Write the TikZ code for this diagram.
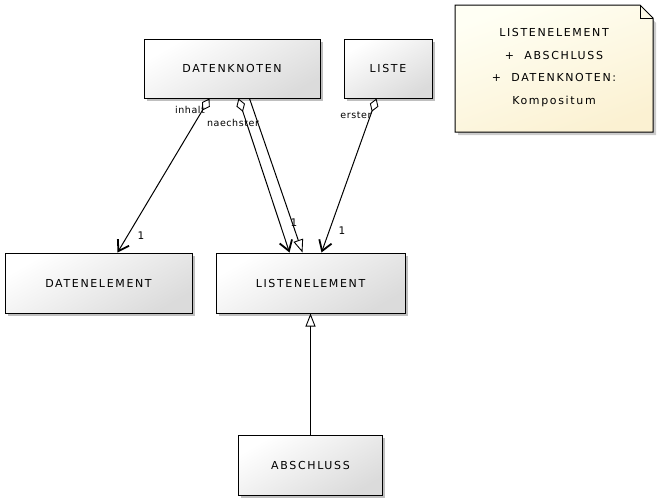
\documentclass[tikz,border=0pt]{standalone}
\usepackage{fontspec}
\setmainfont{DejaVu Sans}
\newfontfamily\boxfont[LetterSpace=15]{DejaVu Sans}
\newfontfamily\lblfont[LetterSpace=6]{DejaVu Sans}
\usetikzlibrary{arrows.meta,shadows,calc,shapes.misc}
\definecolor{notetop}{HTML}{FFFFF4}
\definecolor{notebot}{HTML}{FBF1D2}
\tikzset{
  cls/.style={draw=black, line width=1pt, rectangle, inner sep=0pt,
    shading=axis, top color=white, bottom color=black!14, shading angle=30,
    drop shadow={shadow xshift=2.5pt, shadow yshift=-2.5pt, opacity=0.25, fill=black},
    font=\boxfont\fontsize{11}{13}\selectfont},
  assoc/.style={line width=1pt, {Diamond[open,length=14pt,width=9pt,line width=0.9pt]}-{Straight Barb[length=10pt,width=13pt,line width=1.8pt]}},
  gen/.style={line width=1pt, -{Triangle[open,length=13pt,width=10pt,line width=0.9pt]}},
  lbl/.style={font=\lblfont\fontsize{9.5}{11}\selectfont, inner sep=0pt},
  mult/.style={font=\fontsize{10.5}{12}\selectfont, inner sep=0pt},
}
\begin{document}
\begin{tikzpicture}[x=1pt,y=-1pt]
\useasboundingbox (0,0) rectangle (659,501);
% classes
\node[cls, minimum width=176pt, minimum height=59pt] (dk) at (232,68.5) {DATENKNOTEN};
\node[cls, minimum width=88pt, minimum height=59pt] (li) at (388,68.5) {LISTE};
\node[cls, minimum width=187pt, minimum height=60pt] (de) at (98.5,283) {DATENELEMENT};
\node[cls, minimum width=189pt, minimum height=60pt] (le) at (310.5,283) {LISTENELEMENT};
\node[cls, minimum width=144pt, minimum height=60pt] (ab) at (310.5,465) {ABSCHLUSS};
% note
\fill[black, opacity=0.2] (458,9) -- (642,9) -- (656,23) -- (656,135) -- (458,135) -- cycle;
\shade[top color=notetop, bottom color=notebot, shading angle=20, draw=black, line width=1pt]
  (455,5) -- (640,5) -- (653,18) -- (653,132) -- (455,132) -- cycle;
\draw[line width=1pt] (640,5) -- (640,18) -- (653,18);
\node[font=\boxfont\fontsize{11}{13}\selectfont, align=center] (note) at (554,67.5) {%
  LISTENELEMENT\\[9.5pt] +\ \ ABSCHLUSS\\[9.5pt] +\ \ DATENKNOTEN:\\[9.5pt] Kompositum};
% connectors
\coordinate (inS) at ($(dk.south west)+(66,0)$);
\coordinate (inE) at ($(de.north west)+(113,0)$);
\coordinate (naS) at ($(dk.south west)+(95,0)$);
\coordinate (naE) at ($(le.north west)+(74,0)$);
\coordinate (geS) at ($(dk.south west)+(106,0)$);
\coordinate (geE) at ($(le.north west)+(87,0)$);
\coordinate (erS) at ($(li.south west)+(33,0)$);
\coordinate (erE) at ($(le.north west)+(106,0)$);
\draw[assoc] (inS) -- (inE);
\draw[assoc] (naS) -- (naE);
\draw[gen] (geS) -- (geE);
\draw[assoc] (erS) -- (erE);
\draw[gen] (ab.north) -- (le.south);
% labels
\node[lbl] (l1) at (190,110) {inhalt};
\node[lbl] (l2) at (233,123) {naechster};
\node[lbl] (l3) at (356,115) {erster};
\node[mult] (m1) at (141,236) {1};
\node[mult] (m2) at (294,223) {1};
\node[mult] (m3) at (342,231) {1};
\end{tikzpicture}
\end{document}
